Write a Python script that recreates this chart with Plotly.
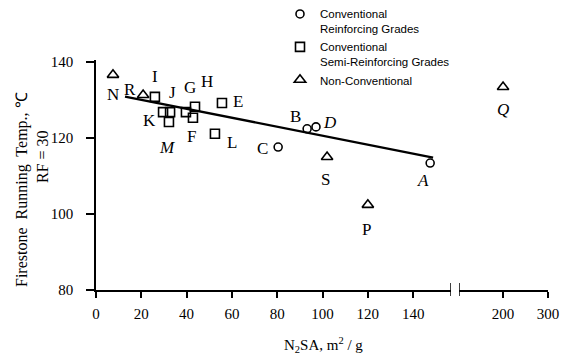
import plotly.graph_objects as go

# --- data -------------------------------------------------------------
# Conventional reinforcing grades (circles)
reinf_names = ["A", "B", "C", "D"]
reinf_x = [147.5, 93.2, 80.4, 97.1]
reinf_y = [113.4, 122.4, 117.6, 122.9]

# Conventional semi-reinforcing grades (squares)
semi_names = ["E", "F", "G", "H", "I", "J", "K", "L", "M"]
semi_x = [55.6, 42.8, 39.7, 43.7, 26.0, 32.7, 29.6, 52.5, 32.2]
semi_y = [129.2, 125.3, 126.8, 128.2, 130.8, 126.8, 126.8, 121.1, 124.2]

# Non-conventional grades (triangles); Q sits on the broken upper scale
nonconv_names = ["N", "R", "S", "P"]
nonconv_x = [7.5, 20.8, 102.0, 120.0]
nonconv_y = [136.6, 131.3, 115.0, 102.4]
q_name = ["Q"]
q_x = [200.0]
q_y = [133.4]

# regression line through the conventional grades
fit_intercept = 132.4
fit_slope = -0.118
fit_x = [12.8, 148.8]
fit_y = [fit_intercept + fit_slope * v for v in fit_x]

x_ticks_low = [0, 20, 40, 60, 80, 100, 120, 140]
x_ticks_high = [200, 300]
y_ticks = [80, 100, 120, 140]

# --- label placement (pixel offsets from each point) ---------------------
label_offset = {
    "A": (-7, -17), "B": (-12, 12), "C": (-16, -1), "D": (14, 4),
    "E": (16, 1), "F": (-1, -19), "G": (4, 25), "H": (12, 25),
    "I": (0, 20), "J": (2, 20), "K": (-14, -8), "L": (17, -9),
    "M": (-2, -26), "N": (0, -20), "R": (-13, 5), "S": (-2, -23),
    "P": (-1, -25), "Q": (0, -23),
}
italic = {"A", "D", "Q", "M"}

# --- geometry ------------------------------------------------------------
W, H = 577, 364
ML, MR, MT, MB = 96, 29, 60, 74
PW, PH = W - ML - MR, H - MT - MB


def px_to_paper(px, py):
    return (px - ML) / PW, (H - MB - py) / PH


low_end = 156.7
split_lo = (451 - ML) / PW
split_hi = (459 - ML) / PW
high_start = 102

serif = "Liberation Serif"
mk_line = dict(color="black", width=1.6)

fig = go.Figure()

fig.add_trace(go.Scatter(
    x=fit_x, y=fit_y, mode="lines", line=dict(color="black", width=2.3),
    showlegend=False, hoverinfo="skip", xaxis="x", yaxis="y"))

fig.add_trace(go.Scatter(
    x=reinf_x, y=reinf_y, mode="markers", text=reinf_names,
    name="Conventional<br>Reinforcing Grades",
    marker=dict(symbol="circle-open", size=8, color="black", line=mk_line),
    xaxis="x", yaxis="y"))

fig.add_trace(go.Scatter(
    x=semi_x, y=semi_y, mode="markers", text=semi_names,
    name="Conventional<br>Semi-Reinforcing Grades",
    marker=dict(symbol="square-open", size=9, color="black", line=mk_line),
    xaxis="x", yaxis="y"))

fig.add_trace(go.Scatter(
    x=nonconv_x, y=nonconv_y, mode="markers", text=nonconv_names,
    name="Non-Conventional", legendgroup="nc",
    marker=dict(symbol="triangle-up-open", size=10, color="black", line=mk_line),
    xaxis="x", yaxis="y"))

fig.add_trace(go.Scatter(
    x=q_x, y=q_y, mode="markers", text=q_name, showlegend=False, legendgroup="nc",
    marker=dict(symbol="triangle-up-open", size=10, color="black", line=mk_line),
    xaxis="x2", yaxis="y"))

annotations = []


def add_labels(names, xs, ys, xref):
    for n, xv, yv in zip(names, xs, ys):
        dx, dy = label_offset[n]
        annotations.append(dict(
            x=xv, y=yv, xref=xref, yref="y", text=f"<i>{n}</i>" if n in italic else n,
            showarrow=False, xshift=dx, yshift=dy, xanchor="center", yanchor="middle",
            font=dict(family=serif, size=17, color="black")))


add_labels(reinf_names, reinf_x, reinf_y, "x")
add_labels(semi_names, semi_x, semi_y, "x")
add_labels(nonconv_names, nonconv_x, nonconv_y, "x")
add_labels(q_name, q_x, q_y, "x2")

# axis titles
title_font = dict(family=serif, size=16, color="black")
tx, ty = px_to_paper(22, 190)
annotations.append(dict(x=tx, y=ty, xref="paper", yref="paper", textangle=-90,
                        xanchor="center", yanchor="middle",
                        text="Firestone  Running  Temp., ℃", showarrow=False,
                        font=title_font))
tx, ty = px_to_paper(42, 157)
annotations.append(dict(x=tx, y=ty, xref="paper", yref="paper", textangle=-90,
                        xanchor="center", yanchor="middle",
                        text="RF = 30", showarrow=False, font=title_font))
tx, ty = px_to_paper(323, 345)
annotations.append(dict(x=tx, y=ty, xref="paper", yref="paper",
                        xanchor="center", yanchor="middle",
                        text="N<sub>2</sub>SA, m<sup>2</sup> / g", showarrow=False,
                        font=dict(family=serif, size=15, color="black")))

# break marks at the ends of the two x-axis segments
shapes = [
    dict(type="line", xref="x", yref="paper", x0=low_end, x1=low_end,
         y0=-6 / PH, y1=7 / PH, line=dict(color="black", width=1.5)),
    dict(type="line", xref="x2", yref="paper", x0=high_start, x1=high_start,
         y0=-6 / PH, y1=7 / PH, line=dict(color="black", width=1.5)),
]

axis_common = dict(showline=True, linecolor="black", linewidth=1.5,
                   ticks="outside", ticklen=6, tickwidth=1.5, tickcolor="black",
                   showgrid=False, zeroline=False,
                   tickfont=dict(family=serif, size=15, color="black"))

fig.update_layout(
    width=W, height=H,
    margin=dict(l=ML, r=MR, t=MT, b=MB, autoexpand=False),
    paper_bgcolor="white", plot_bgcolor="white",
    xaxis=dict(domain=[0, split_lo], range=[0, low_end], tickvals=x_ticks_low,
               anchor="y", ticklabelstandoff=3, **axis_common),
    xaxis2=dict(domain=[split_hi, 1], range=[high_start, 300], tickvals=x_ticks_high,
                anchor="y", ticklabelstandoff=3, **axis_common),
    yaxis=dict(range=[80, 140.5], tickvals=y_ticks, anchor="x",
               ticklabelstandoff=10, **{**axis_common, "ticklen": 8}),
    legend=dict(xref="container", yref="container", x=280 / W, y=1 + 2 / H,
                xanchor="left", yanchor="top", valign="top",
                bgcolor="rgba(0,0,0,0)", tracegroupgap=0,
                font=dict(family="Liberation Sans", size=11.5, color="black")),
    annotations=annotations,
    shapes=shapes,
    showlegend=True,
)

fig.write_html("out.html")
